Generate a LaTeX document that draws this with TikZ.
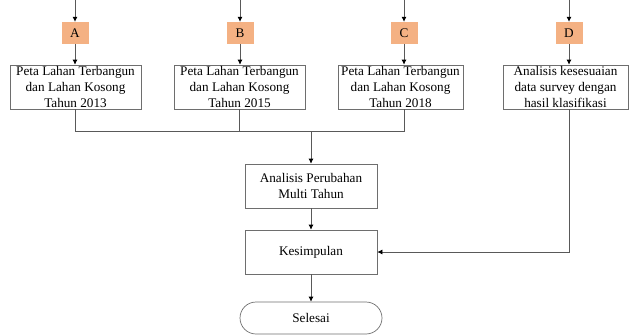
\documentclass[tikz,border=0pt]{standalone}
\usepackage{fontspec}
\setmainfont{Liberation Serif}
\usepackage{tikz}
\usetikzlibrary{arrows.meta, positioning, calc}
\definecolor{linegray}{HTML}{595959}
\definecolor{boxgray}{HTML}{6E6E6E}
\definecolor{labelorange}{HTML}{F4B183}

\begin{document}
\begin{tikzpicture}[x=1pt, y=-1pt,
    txt/.style={font=\fontsize{13.2}{15.7}\selectfont, align=center},
    tag/.style={txt, fill=labelorange, minimum width=27pt, minimum height=22pt, inner sep=0pt},
    mapbox/.style={txt, draw=boxgray, line width=0.7pt, minimum height=44pt, inner sep=0pt},
    stepbox/.style={txt, draw=boxgray, line width=0.7pt, minimum width=132pt, minimum height=44pt, inner sep=0pt},
    endbox/.style={txt, draw=boxgray, line width=0.7pt, rounded corners=16pt, minimum width=142pt, minimum height=32pt, inner sep=0pt},
    link/.style={draw=linegray, line width=0.7pt},
    arrow/.style={link, -{Latex[length=5pt, width=5pt, black]}}]
  \useasboundingbox (0,0) rectangle (629,335);
  % input labels
  \foreach \name/\x in {A/75, B/240, C/404, D/569} {
    \node[tag] (\name) at (\x,33) {\name};
    \coordinate (in\name) at (\x,0);
    \draw[arrow] (in\name) -- (\name);
  }
  % maps per year
  \node[mapbox, minimum width=131pt] (m1) at (75.5,87) {Peta Lahan Terbangun\\dan Lahan Kosong\\Tahun 2013};
  \node[mapbox, minimum width=131pt] (m2) at (239.5,87) {Peta Lahan Terbangun\\dan Lahan Kosong\\Tahun 2015};
  \node[mapbox, minimum width=125pt] (m3) at (400.5,87) {Peta Lahan Terbangun\\dan Lahan Kosong\\Tahun 2018};
  \node[mapbox, minimum width=125pt] (m4) at (565.5,87) {Analisis kesesuaian\\data survey dengan\\hasil klasifikasi};
  \foreach \name/\target in {A/m1, B/m2, C/m3, D/m4}
    \draw[arrow] (\name) -- (\name |- \target.north);
  % analysis chain
  \node[stepbox] (analisis) at (311,186) {Analisis Perubahan\\Multi Tahun};
  \node[stepbox] (kesimpulan) at (311,252) {Kesimpulan};
  \node[endbox] (selesai) at (311,318) {Selesai};
  \coordinate (hub) at (311,131);
  \draw[link] (m1.south) |- (hub);
  \draw[link] (m2.south) |- (hub);
  \draw[link] (m3.south -| C) |- (hub);
  \draw[arrow] (hub) -- (analisis);
  \draw[arrow] (analisis) -- (kesimpulan);
  \draw[arrow] (kesimpulan) -- (selesai);
  \draw[arrow] (m4.south -| D) |- (kesimpulan.east);
\end{tikzpicture}
\end{document}
